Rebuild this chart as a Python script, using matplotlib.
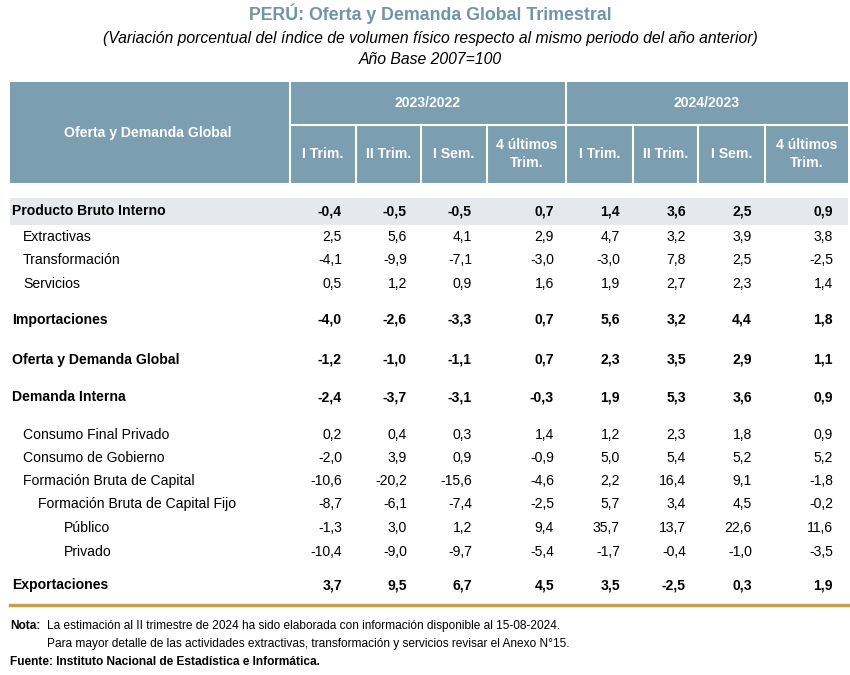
import matplotlib.pyplot as plt
from matplotlib.patches import Rectangle

plt.rcParams['font.family'] = ['Liberation Sans Narrow', 'Liberation Sans', 'DejaVu Sans']

# datos
titulo = "PERÚ: Oferta y Demanda Global Trimestral"
subtitulo = "(Variación porcentual del índice de volumen físico respecto al mismo periodo del año anterior)"
base = "Año Base 2007=100"

periodos = ["2023/2022", "2024/2023"]
subcolumnas = ["I Trim.", "II Trim.", "I Sem.", "4 últimos\nTrim."]

filas = ["Producto Bruto Interno", "Extractivas", "Transformación", "Servicios",
         "Importaciones", "Oferta y Demanda Global", "Demanda Interna",
         "Consumo Final Privado", "Consumo de Gobierno", "Formación Bruta de Capital",
         "Formación Bruta de Capital Fijo", "Público", "Privado", "Exportaciones"]
nivel = [0, 1, 1, 1, 0, 0, 0, 1, 1, 1, 2, 3, 3, 0]
negrita = [True, False, False, False, True, True, True,
           False, False, False, False, False, False, True]

valores = [
    [-0.4, -0.5, -0.5, 0.7, 1.4, 3.6, 2.5, 0.9],
    [2.5, 5.6, 4.1, 2.9, 4.7, 3.2, 3.9, 3.8],
    [-4.1, -9.9, -7.1, -3.0, -3.0, 7.8, 2.5, -2.5],
    [0.5, 1.2, 0.9, 1.6, 1.9, 2.7, 2.3, 1.4],
    [-4.0, -2.6, -3.3, 0.7, 5.6, 3.2, 4.4, 1.8],
    [-1.2, -1.0, -1.1, 0.7, 2.3, 3.5, 2.9, 1.1],
    [-2.4, -3.7, -3.1, -0.3, 1.9, 5.3, 3.6, 0.9],
    [0.2, 0.4, 0.3, 1.4, 1.2, 2.3, 1.8, 0.9],
    [-2.0, 3.9, 0.9, -0.9, 5.0, 5.4, 5.2, 5.2],
    [-10.6, -20.2, -15.6, -4.6, 2.2, 16.4, 9.1, -1.8],
    [-8.7, -6.1, -7.4, -2.5, 5.7, 3.4, 4.5, -0.2],
    [-1.3, 3.0, 1.2, 9.4, 35.7, 13.7, 22.6, 11.6],
    [-10.4, -9.0, -9.7, -5.4, -1.7, -0.4, -1.0, -3.5],
    [3.7, 9.5, 6.7, 4.5, 3.5, -2.5, 0.3, 1.9],
]

nota1 = "La estimación al II trimestre de 2024 ha sido elaborada con información disponible al 15-08-2024."
nota2 = "Para mayor detalle de las actividades extractivas, transformación y servicios revisar el Anexo N°15."
fuente = "Fuente: Instituto Nacional de Estadística e Informática."

# disposición (pixeles)
fila_y = [211, 237, 260, 284, 320, 360, 397, 435, 458, 481, 504, 528, 552, 585]
sangria = [12, 23, 38, 64]
col_bordes = [290, 356, 421, 487, 566, 633, 698, 765, 848]
col_derecha = [342, 407, 472, 554, 620, 686, 752, 833]

azul = "#7b9fb0"
fs = 10.1

fig = plt.figure(figsize=(8.5, 6.75), dpi=100)
ax = fig.add_axes([0, 0, 1, 1])
ax.set_xlim(0, 850)
ax.set_ylim(675, 0)
ax.axis("off")

ax.text(430, 14, titulo, ha="center", va="center", fontsize=12.8, fontweight="bold", color="#7094a8")
ax.text(430, 38, subtitulo, ha="center", va="center", fontsize=11.3, style="italic")
ax.text(430, 60, base, ha="center", va="center", fontsize=11.3, style="italic")

# encabezado
ax.add_patch(Rectangle((10, 82), 838, 101, color=azul, lw=0))
ax.plot([col_bordes[0]] * 2, [82, 183], color="white", lw=1.5)
ax.plot([col_bordes[4]] * 2, [82, 183], color="white", lw=1.5)
ax.plot([col_bordes[0], 848], [125, 125], color="white", lw=1.5)
for x in col_bordes[1:4] + col_bordes[5:8]:
    ax.plot([x, x], [125, 183], color="white", lw=1.5)
ax.text(148, 133, "Oferta y Demanda Global", ha="center", va="center",
        fontsize=fs, fontweight="bold", color="white")
for p, periodo in enumerate(periodos):
    x0 = col_bordes[p * 4]
    x1 = col_bordes[p * 4 + 4]
    ax.text((x0 + x1) / 2, 103, periodo, ha="center", va="center",
            fontsize=fs, fontweight="bold", color="white")
    for k, sub in enumerate(subcolumnas):
        c = p * 4 + k
        ax.text((col_bordes[c] + col_bordes[c + 1]) / 2, 154, sub, ha="center", va="center",
                fontsize=fs, fontweight="bold", color="white", linespacing=1.3)

# cuerpo
ax.add_patch(Rectangle((10, 198), 838, 27, color="#e5e8ec", lw=0))
for i, fila in enumerate(filas):
    peso = "bold" if negrita[i] else "normal"
    ax.text(sangria[nivel[i]], fila_y[i], fila, ha="left", va="center", fontsize=fs, fontweight=peso)
    for j, v in enumerate(valores[i]):
        txt = f"{v:.1f}".replace(".", ",")
        ax.text(col_derecha[j], fila_y[i], txt, ha="right", va="center", fontsize=fs, fontweight=peso)

ax.plot([10, 848], [605, 605], color="#c4a050", lw=2.5)

# notas
ax.text(10, 626, "Nota:", ha="left", va="center", fontsize=8.6, fontweight="bold")
ax.text(47, 626, nota1, ha="left", va="center", fontsize=8.6)
ax.text(47, 644, nota2, ha="left", va="center", fontsize=8.6)
ax.text(10, 662, fuente, ha="left", va="center", fontsize=8.6, fontweight="bold")

fig.savefig("out.png", dpi=100)
